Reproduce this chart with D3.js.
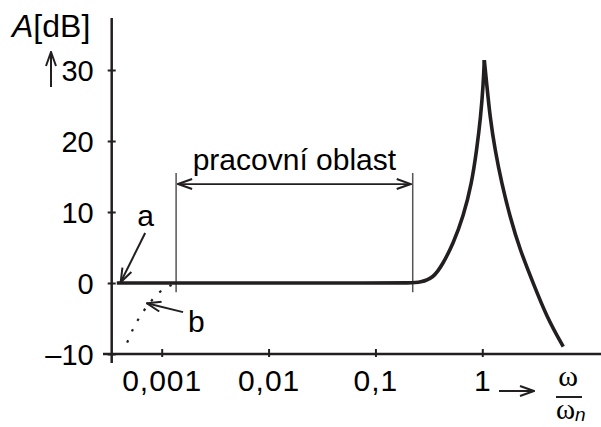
<!DOCTYPE html>
<html lang="cs">
<head>
<meta charset="UTF-8">
<title>Amplitudová charakteristika</title>
<script src="https://d3js.org/d3.v7.min.js"></script>
<style>
  body { margin: 0; background: #fff; }
  svg { display: block; font-family: 'Liberation Sans', Arial, sans-serif; }
  .lbl { font-size: 30px; fill: #000; }
</style>
</head>
<body>
<script>
// frequency ratio omega/omega_n and amplitude in dB
const curveA_x = [0.00038, 0.001, 0.01, 0.1, 0.22, 0.261, 0.348, 0.431, 0.535, 0.664, 0.796, 0.886, 0.966, 1.022, 1.044,
                  1.099, 1.18, 1.315, 1.519, 1.816, 2.253, 3.0, 4.0, 5.72];
const curveA_y = [0, 0, 0, 0, 0, 0.1, 0.66, 2.77, 5.58, 9.34, 14.04, 18.73, 23.4, 28.1, 31.4,
                  28.1, 23.4, 18.73, 14.04, 9.34, 4.65, -0.04, -4.75, -8.97];

const curveB_x = [0.000475, 0.000543, 0.000628, 0.000746, 0.000931, 0.001156, 0.001364];
const curveB_y = [-8.4, -6.4, -4.7, -3.1, -1.45, -0.5, -0.05];

const xTicks = [0.001, 0.01, 0.1, 1];
const xTickLabels = ["0,001", "0,01", "0,1", "1"];
const yTicks = [-10, 0, 10, 20, 30];
const yTickLabels = ["–10", "0", "10", "20", "30"];

// working range (pracovní oblast)
const workRange = [0.001364, 0.2233];

const W = 601, H = 427;
const svg = d3.select("body").append("svg").attr("width", W).attr("height", H);

const x = d3.scaleLog().domain([0.001, 1]).range([161.7, 482.3]);
const y = d3.scaleLinear().domain([-10, 30]).range([354, 70]);
const ink = "#231f20";

const defs = svg.append("defs");
defs.append("marker")
    .attr("id", "open")
    .attr("viewBox", "0 0 16 12")
    .attr("refX", 15).attr("refY", 6)
    .attr("markerWidth", 16).attr("markerHeight", 12)
    .attr("markerUnits", "userSpaceOnUse")
    .attr("orient", "auto-start-reverse")
    .append("path")
    .attr("d", "M1,1 L15,6 L1,11")
    .attr("fill", "none")
    .attr("stroke", ink)
    .attr("stroke-width", 2);

// axes lines
svg.append("line")
    .attr("x1", 103).attr("x2", 601)
    .attr("y1", y(-10)).attr("y2", y(-10))
    .attr("stroke", ink).attr("stroke-width", 2.5);
svg.append("line")
    .attr("x1", 111.7).attr("x2", 111.7)
    .attr("y1", 18).attr("y2", 363)
    .attr("stroke", ink).attr("stroke-width", 2.5);

// x axis ticks
const xAxis = svg.append("g")
    .attr("transform", `translate(0,${y(-10)})`)
    .call(d3.axisBottom(x).tickValues(xTicks).tickFormat((d, i) => xTickLabels[i]).tickSize(3).tickPadding(0));
xAxis.select(".domain").remove();
xAxis.selectAll("line").attr("y1", -5).attr("y2", 3).attr("stroke", ink).attr("stroke-width", 2);
xAxis.selectAll("text")
    .attr("class", "lbl")
    .attr("y", 37).attr("dy", null)
    .style("font-size", "30px")
    .style("letter-spacing", "1px")
    .attr("fill", "#000");

// y axis ticks
const yAxis = svg.append("g")
    .attr("transform", "translate(111.7,0)")
    .call(d3.axisLeft(y).tickValues(yTicks).tickFormat((d, i) => yTickLabels[i]).tickSize(4));
yAxis.select(".domain").remove();
yAxis.selectAll("line").attr("x1", -4).attr("x2", 4).attr("stroke", ink).attr("stroke-width", 2);
yAxis.selectAll("text")
    .attr("class", "lbl")
    .attr("x", -18).attr("dy", "0.36em")
    .style("font-size", "29px")
    .attr("fill", "#000");

// axis titles
const yTitle = svg.append("text").attr("class", "lbl").attr("x", 12).attr("y", 37)
    .style("font-size", "32px");
yTitle.append("tspan").style("font-style", "italic").text("A");
yTitle.append("tspan").text("[dB]");
svg.append("line")
    .attr("x1", 51).attr("x2", 51).attr("y1", 87).attr("y2", 52)
    .attr("stroke", ink).attr("stroke-width", 2)
    .attr("marker-end", "url(#open)");

svg.append("line")
    .attr("x1", 499).attr("x2", 534).attr("y1", 391).attr("y2", 391)
    .attr("stroke", ink).attr("stroke-width", 2)
    .attr("marker-end", "url(#open)");
svg.append("text").attr("x", 568).attr("y", 386)
    .attr("text-anchor", "middle")
    .style("font-family", "'Liberation Serif', serif").style("font-size", "30px")
    .text("ω");
svg.append("line")
    .attr("x1", 556).attr("x2", 582).attr("y1", 397).attr("y2", 397)
    .attr("stroke", ink).attr("stroke-width", 2);
const den = svg.append("text").attr("x", 556).attr("y", 419)
    .style("font-family", "'Liberation Serif', serif").style("font-size", "29px");
den.append("tspan").text("ω");
den.append("tspan").attr("dy", 2)
    .style("font-family", "'Liberation Sans', sans-serif")
    .style("font-style", "italic").style("font-size", "19px").text("n");

// working range
workRange.forEach(v => {
    svg.append("line")
        .attr("x1", x(v)).attr("x2", x(v))
        .attr("y1", y(15.5)).attr("y2", y(-1.3))
        .attr("stroke", "#555").attr("stroke-width", 1.5);
});
svg.append("line")
    .attr("x1", x(workRange[0]) + 2).attr("x2", x(workRange[1]) - 2)
    .attr("y1", y(13.94)).attr("y2", y(13.94))
    .attr("stroke", ink).attr("stroke-width", 1.8)
    .attr("marker-start", "url(#open)")
    .attr("marker-end", "url(#open)");
svg.append("text").attr("class", "lbl")
    .attr("x", (x(workRange[0]) + x(workRange[1])) / 2)
    .attr("y", y(15.9))
    .attr("text-anchor", "middle")
    .text("pracovní oblast");

// curves
const line = d3.line().x(d => x(d[0])).y(d => y(d[1])).curve(d3.curveBasis);
const ptsA = curveA_x.map((v, i) => [v, curveA_y[i]]);
const peak = d3.maxIndex(curveA_y);
[ptsA.slice(0, peak + 1), ptsA.slice(peak)].forEach(seg => {
    svg.append("path")
        .attr("d", line(seg))
        .attr("fill", "none")
        .attr("stroke", ink)
        .attr("stroke-width", 3.6)
        .attr("stroke-linecap", "butt");
});

const ptsB = curveB_x.map((v, i) => [v, curveB_y[i]]);
svg.append("path")
    .attr("d", d3.line().x(d => x(d[0])).y(d => y(d[1])).curve(d3.curveMonotoneX)(ptsB))
    .attr("fill", "none")
    .attr("stroke", ink)
    .attr("stroke-width", 2.2)
    .attr("stroke-dasharray", "2.5,9.5");

// labels a, b with arrows
const arrowA = { from: [0.0007, 7.04], to: [0.000413, 0.1] };
const arrowB = { from: [0.001585, -4.1], to: [0.000726, -2.86] };
[arrowA, arrowB].forEach(a => {
    svg.append("line")
        .attr("x1", x(a.from[0])).attr("y1", y(a.from[1]))
        .attr("x2", x(a.to[0])).attr("y2", y(a.to[1]))
        .attr("stroke", ink).attr("stroke-width", 2)
        .attr("marker-end", "url(#open)");
});
svg.append("text").attr("class", "lbl")
    .attr("x", x(0.000707)).attr("y", y(8.0))
    .attr("text-anchor", "middle").text("a");
svg.append("text").attr("class", "lbl")
    .attr("x", x(0.001766)).attr("y", y(-6.9))
    .text("b");
</script>
</body>
</html>
